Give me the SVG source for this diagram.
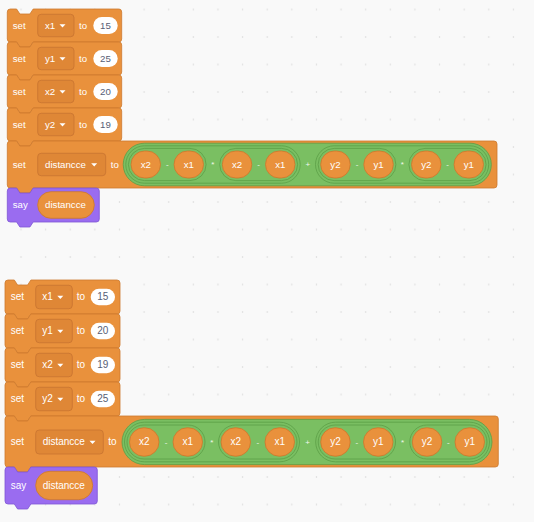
<svg xmlns="http://www.w3.org/2000/svg" width="534" height="522" viewBox="0 0 534 522">
<style>
.blk{fill:#E9913C;stroke:#CD7A2E;stroke-width:0.8}
.say{fill:#9A6CF0;stroke:#7E56D4;stroke-width:0.8}
.dd{fill:#DF8736;stroke:#C87431;stroke-width:0.8}
.num{fill:#FFFFFF}
.op{fill:#7ABF62;stroke:#5C9E46;stroke-width:0.8}
.rep{fill:#E9913C;stroke:#CC772C;stroke-width:0.8}
.t{font-family:"Liberation Sans",Arial,sans-serif;font-size:9.7px;fill:#FFFFFF}
.b{font-size:10px}
.n{fill:#575E75;text-anchor:middle}
.c{text-anchor:middle}
.o{font-size:8px;text-anchor:middle;fill:#F2F8EE}
.arr{fill:#FFFFFF}
</style>
<defs>
<pattern id="grid" patternUnits="userSpaceOnUse" x="8.69" y="-4.25" width="24.62" height="27.5">
<circle cx="12.31" cy="13.75" r="0.75" fill="#D6D6D6"/>
</pattern>
</defs>
<rect width="534" height="522" fill="#F9F9F9"/>
<rect width="534" height="522" fill="url(#grid)"/>

<!-- TOP STACK -->
<g id="top-set-x1">
<path class="blk" d="M7.3,12 Q7.3,9 10.3,9 H16.6 L19.9,14 H29.9 L33.2,9 H118.7 Q121.7,9 121.7,12 V39 Q121.7,42 118.7,42 H33.2 L29.9,47 H19.9 L16.6,42 H10.3 Q7.3,42 7.3,39 Z"/>
<text class="t" x="12.7" y="28.8">set</text>
<rect class="dd" x="37.7" y="14.25" width="36.3" height="22.5" rx="3.5"/>
<text class="t" x="45" y="28.8">x1</text>
<polygon class="arr" points="59.5,24.2 65.5,24.2 62.5,27.5"/>
<text class="t" x="79" y="28.8">to</text>
<rect class="num" x="93.3" y="17" width="24.4" height="17" rx="8.5"/>
<text class="t n" x="105.5" y="28.8">15</text>
</g>
<g id="top-set-y1">
<path class="blk" d="M7.3,45 Q7.3,42 10.3,42 H16.6 L19.9,47 H29.9 L33.2,42 H118.7 Q121.7,42 121.7,45 V72 Q121.7,75 118.7,75 H33.2 L29.9,80 H19.9 L16.6,75 H10.3 Q7.3,75 7.3,72 Z"/>
<text class="t" x="12.7" y="61.8">set</text>
<rect class="dd" x="37.7" y="47.25" width="36.3" height="22.5" rx="3.5"/>
<text class="t" x="45" y="61.8">y1</text>
<polygon class="arr" points="59.5,57.2 65.5,57.2 62.5,60.5"/>
<text class="t" x="79" y="61.8">to</text>
<rect class="num" x="93.3" y="50" width="24.4" height="17" rx="8.5"/>
<text class="t n" x="105.5" y="61.8">25</text>
</g>
<g id="top-set-x2">
<path class="blk" d="M7.3,78 Q7.3,75 10.3,75 H16.6 L19.9,80 H29.9 L33.2,75 H118.7 Q121.7,75 121.7,78 V105 Q121.7,108 118.7,108 H33.2 L29.9,113 H19.9 L16.6,108 H10.3 Q7.3,108 7.3,105 Z"/>
<text class="t" x="12.7" y="94.8">set</text>
<rect class="dd" x="37.7" y="80.25" width="36.3" height="22.5" rx="3.5"/>
<text class="t" x="45" y="94.8">x2</text>
<polygon class="arr" points="59.5,90.2 65.5,90.2 62.5,93.5"/>
<text class="t" x="79" y="94.8">to</text>
<rect class="num" x="93.3" y="83" width="24.4" height="17" rx="8.5"/>
<text class="t n" x="105.5" y="94.8">20</text>
</g>
<g id="top-set-y2">
<path class="blk" d="M7.3,111 Q7.3,108 10.3,108 H16.6 L19.9,113 H29.9 L33.2,108 H118.7 Q121.7,108 121.7,111 V138 Q121.7,141 118.7,141 H33.2 L29.9,146 H19.9 L16.6,141 H10.3 Q7.3,141 7.3,138 Z"/>
<text class="t" x="12.7" y="127.8">set</text>
<rect class="dd" x="37.7" y="113.25" width="36.3" height="22.5" rx="3.5"/>
<text class="t" x="45" y="127.8">y2</text>
<polygon class="arr" points="59.5,123.2 65.5,123.2 62.5,126.5"/>
<text class="t" x="79" y="127.8">to</text>
<rect class="num" x="93.3" y="116" width="24.4" height="17" rx="8.5"/>
<text class="t n" x="105.5" y="127.8">19</text>
</g>
<g id="top-set-distancce">
<path class="blk" d="M7.3,144 Q7.3,141 10.3,141 H16.6 L19.9,146 H29.9 L33.2,141 H494 Q497,141 497,144 V185 Q497,188 494,188 H33.2 L29.9,193 H19.9 L16.6,188 H10.3 Q7.3,188 7.3,185 Z"/>
<text class="t" x="12.7" y="167.8">set</text>
<rect class="dd" x="37.7" y="153.25" width="68" height="22.5" rx="3.5"/>
<text class="t" x="45" y="167.8">distancce</text>
<polygon class="arr" points="91.2,163.2 97.2,163.2 94.2,166.5"/>
<text class="t" x="110.7" y="167.8">to</text>
<rect class="op" x="123.2" y="143.2" width="368.1" height="42.6" rx="21.3"/>
<rect class="op" x="125.8" y="145.8" width="174.4" height="37.4" rx="18.7"/>
<rect class="op" x="315.5" y="145.8" width="173.2" height="37.4" rx="18.7"/>
<rect class="op" x="128.4" y="148.4" width="77.7" height="32.2" rx="16.1"/>
<rect class="op" x="219.7" y="148.4" width="77.9" height="32.2" rx="16.1"/>
<rect class="op" x="318.1" y="148.4" width="77.8" height="32.2" rx="16.1"/>
<rect class="op" x="408.9" y="148.4" width="77.2" height="32.2" rx="16.1"/>
<rect class="rep" x="131" y="151" width="29.5" height="27" rx="13.5"/>
<rect class="rep" x="174" y="151" width="29.5" height="27" rx="13.5"/>
<rect class="rep" x="222.3" y="151" width="29.5" height="27" rx="13.5"/>
<rect class="rep" x="265.5" y="151" width="29.5" height="27" rx="13.5"/>
<rect class="rep" x="320.7" y="151" width="29.5" height="27" rx="13.5"/>
<rect class="rep" x="363.8" y="151" width="29.5" height="27" rx="13.5"/>
<rect class="rep" x="411.5" y="151" width="29.5" height="27" rx="13.5"/>
<rect class="rep" x="454" y="151" width="29.5" height="27" rx="13.5"/>
<text class="t c" x="145.75" y="167.8">x2</text>
<text class="t c" x="188.75" y="167.8">x1</text>
<text class="t c" x="237.05" y="167.8">x2</text>
<text class="t c" x="280.25" y="167.8">x1</text>
<text class="t c" x="335.45" y="167.8">y2</text>
<text class="t c" x="378.55" y="167.8">y1</text>
<text class="t c" x="426.25" y="167.8">y2</text>
<text class="t c" x="468.75" y="167.8">y1</text>
<text class="t o" x="167.25" y="167.3">-</text>
<text class="t o" x="212.9" y="167.3">*</text>
<text class="t o" x="258.65" y="167.3">-</text>
<text class="t o" x="307.85" y="167.3">+</text>
<text class="t o" x="357" y="167.3">-</text>
<text class="t o" x="402.4" y="167.3">*</text>
<text class="t o" x="447.5" y="167.3">-</text>
</g>
<g id="top-say">
<path class="say" d="M7.3,191 Q7.3,188 10.3,188 H16.6 L19.9,193 H29.9 L33.2,188 H96.3 Q99.3,188 99.3,191 V219 Q99.3,222 96.3,222 H33.2 L29.9,227 H19.9 L16.6,222 H10.3 Q7.3,222 7.3,219 Z"/>
<text class="t" x="12.7" y="208.3">say</text>
<rect class="rep" x="37.7" y="191.7" width="56.6" height="26.6" rx="13.3"/>
<text class="t" x="45" y="208.3">distancce</text>
</g>

<!-- BOTTOM STACK -->
<g id="bottom-set-x1">
<path class="blk" d="M5,283 Q5,280 8,280 H14.3 L17.6,285 H27.6 L30.9,280 H117 Q120,280 120,283 V311 Q120,314 117,314 H30.9 L27.6,319 H17.6 L14.3,314 H8 Q5,314 5,311 Z"/>
<text class="t b" x="10.7" y="300.4">set</text>
<rect class="dd" x="35.7" y="285.25" width="36.6" height="23.5" rx="3.5"/>
<text class="t b" x="42.3" y="300.4">x1</text>
<polygon class="arr" points="57.3,295.7 63.3,295.7 60.3,299"/>
<text class="t b" x="76.7" y="300.4">to</text>
<rect class="num" x="90.7" y="288.75" width="24.3" height="16.5" rx="8.25"/>
<text class="t b n" x="102.85" y="300.4">15</text>
</g>
<g id="bottom-set-y1">
<path class="blk" d="M5,317 Q5,314 8,314 H14.3 L17.6,319 H27.6 L30.9,314 H117 Q120,314 120,317 V345 Q120,348 117,348 H30.9 L27.6,353 H17.6 L14.3,348 H8 Q5,348 5,345 Z"/>
<text class="t b" x="10.7" y="334.4">set</text>
<rect class="dd" x="35.7" y="319.25" width="36.6" height="23.5" rx="3.5"/>
<text class="t b" x="42.3" y="334.4">y1</text>
<polygon class="arr" points="57.3,329.7 63.3,329.7 60.3,333"/>
<text class="t b" x="76.7" y="334.4">to</text>
<rect class="num" x="90.7" y="322.75" width="24.3" height="16.5" rx="8.25"/>
<text class="t b n" x="102.85" y="334.4">20</text>
</g>
<g id="bottom-set-x2">
<path class="blk" d="M5,351 Q5,348 8,348 H14.3 L17.6,353 H27.6 L30.9,348 H117 Q120,348 120,351 V379 Q120,382 117,382 H30.9 L27.6,387 H17.6 L14.3,382 H8 Q5,382 5,379 Z"/>
<text class="t b" x="10.7" y="368.4">set</text>
<rect class="dd" x="35.7" y="353.25" width="36.6" height="23.5" rx="3.5"/>
<text class="t b" x="42.3" y="368.4">x2</text>
<polygon class="arr" points="57.3,363.7 63.3,363.7 60.3,367"/>
<text class="t b" x="76.7" y="368.4">to</text>
<rect class="num" x="90.7" y="356.75" width="24.3" height="16.5" rx="8.25"/>
<text class="t b n" x="102.85" y="368.4">19</text>
</g>
<g id="bottom-set-y2">
<path class="blk" d="M5,385 Q5,382 8,382 H14.3 L17.6,387 H27.6 L30.9,382 H117 Q120,382 120,385 V413 Q120,416 117,416 H30.9 L27.6,421 H17.6 L14.3,416 H8 Q5,416 5,413 Z"/>
<text class="t b" x="10.7" y="402.4">set</text>
<rect class="dd" x="35.7" y="387.25" width="36.6" height="23.5" rx="3.5"/>
<text class="t b" x="42.3" y="402.4">y2</text>
<polygon class="arr" points="57.3,397.7 63.3,397.7 60.3,401"/>
<text class="t b" x="76.7" y="402.4">to</text>
<rect class="num" x="90.7" y="390.75" width="24.3" height="16.5" rx="8.25"/>
<text class="t b n" x="102.85" y="402.4">25</text>
</g>
<g id="bottom-set-distancce">
<path class="blk" d="M5,419 Q5,416 8,416 H14.3 L17.6,421 H27.6 L30.9,416 H495.3 Q498.3,416 498.3,419 V464 Q498.3,467 495.3,467 H30.9 L27.6,472 H17.6 L14.3,467 H8 Q5,467 5,464 Z"/>
<text class="t b" x="10.7" y="445.4">set</text>
<rect class="dd" x="35.7" y="430" width="67.6" height="24" rx="3.5"/>
<text class="t b" x="42.7" y="445.4">distancce</text>
<polygon class="arr" points="89.5,440.7 95.5,440.7 92.5,444"/>
<text class="t b" x="108.3" y="445.4">to</text>
<rect class="op" x="122" y="419.4" width="370" height="45.2" rx="22.6"/>
<rect class="op" x="124.5" y="422.2" width="175" height="39.6" rx="19.8"/>
<rect class="op" x="315.7" y="422.2" width="173.8" height="39.6" rx="19.8"/>
<rect class="op" x="127" y="425" width="78" height="34" rx="17"/>
<rect class="op" x="218.5" y="425" width="78.5" height="34" rx="17"/>
<rect class="op" x="318.2" y="425" width="77.3" height="34" rx="17"/>
<rect class="op" x="409.8" y="425" width="77.2" height="34" rx="17"/>
<rect class="rep" x="129.5" y="427.8" width="29.5" height="28.4" rx="14.2"/>
<rect class="rep" x="173" y="427.8" width="29.5" height="28.4" rx="14.2"/>
<rect class="rep" x="221" y="427.8" width="29.5" height="28.4" rx="14.2"/>
<rect class="rep" x="265" y="427.8" width="29.5" height="28.4" rx="14.2"/>
<rect class="rep" x="320.7" y="427.8" width="29.5" height="28.4" rx="14.2"/>
<rect class="rep" x="363.5" y="427.8" width="29.5" height="28.4" rx="14.2"/>
<rect class="rep" x="412.3" y="427.8" width="29.5" height="28.4" rx="14.2"/>
<rect class="rep" x="455" y="427.8" width="29.5" height="28.4" rx="14.2"/>
<text class="t b c" x="144.25" y="445.4">x2</text>
<text class="t b c" x="187.75" y="445.4">x1</text>
<text class="t b c" x="235.75" y="445.4">x2</text>
<text class="t b c" x="279.75" y="445.4">x1</text>
<text class="t b c" x="335.45" y="445.4">y2</text>
<text class="t b c" x="378.25" y="445.4">y1</text>
<text class="t b c" x="427.05" y="445.4">y2</text>
<text class="t b c" x="469.75" y="445.4">y1</text>
<text class="t o" x="166" y="444.9">-</text>
<text class="t o" x="211.75" y="444.9">*</text>
<text class="t o" x="257.75" y="444.9">-</text>
<text class="t o" x="307.6" y="444.9">+</text>
<text class="t o" x="356.85" y="444.9">-</text>
<text class="t o" x="402.65" y="444.9">*</text>
<text class="t o" x="448.4" y="444.9">-</text>
</g>
<g id="bottom-say">
<path class="say" d="M5,470 Q5,467 8,467 H14.3 L17.6,472 H27.6 L30.9,467 H94.3 Q97.3,467 97.3,470 V501 Q97.3,504 94.3,504 H30.9 L27.6,509 H17.6 L14.3,504 H8 Q5,504 5,501 Z"/>
<text class="t b" x="10.7" y="488.9">say</text>
<rect class="rep" x="35.7" y="471.3" width="57" height="28.4" rx="14.2"/>
<text class="t b" x="42.7" y="488.9">distancce</text>
</g>
</svg>
